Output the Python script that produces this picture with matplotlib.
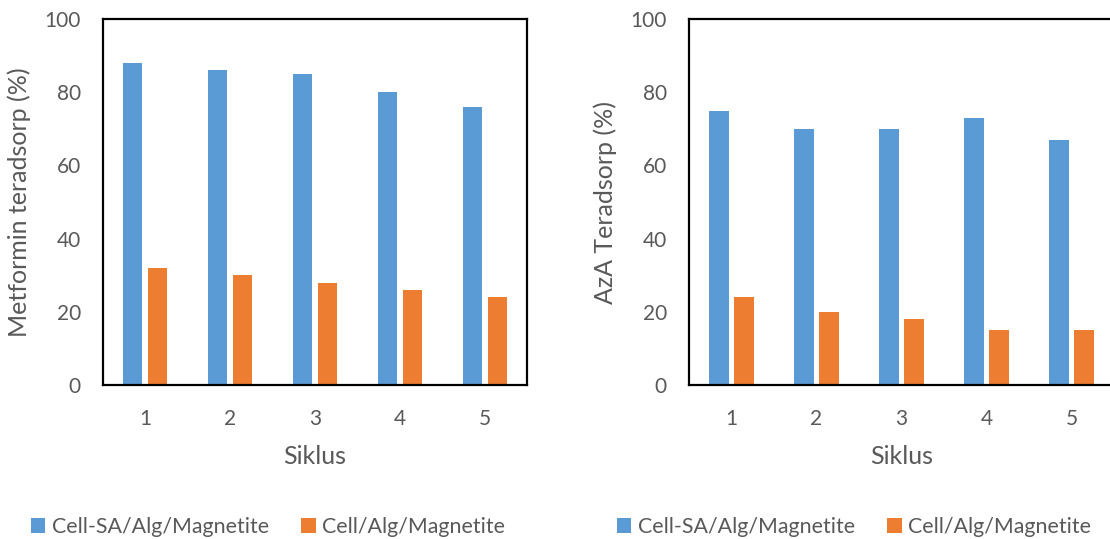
import matplotlib.pyplot as plt
import numpy as np

cycles = ['1', '2', '3', '4', '5']
metformin_sa = [88, 86, 85, 80, 76]
metformin_plain = [32, 30, 28, 26, 24]
aza_sa = [75, 70, 70, 73, 67]
aza_plain = [24, 20, 18, 15, 15]
series_names = ['Cell-SA/Alg/Magnetite', 'Cell/Alg/Magnetite']
ylabels = ['Metformin teradsorp (%)', 'AzA Teradsorp (%)']

blue = '#5B9BD5'
orange = '#ED7D31'
grey = '#595959'

plt.rcParams['font.family'] = ['Lato', 'DejaVu Sans']

fig = plt.figure(figsize=(11.1, 5.39), dpi=100)
ax1 = fig.add_axes([103 / 1110, 1 - 385 / 539, 424 / 1110, 366 / 539])
ax2 = fig.add_axes([689 / 1110, 1 - 385 / 539, 425 / 1110, 366 / 539])

x = np.arange(len(cycles))
w = 0.224
gap = 0.07

legend_x = [12 / 1110, 598 / 1110]
for ax, s1, s2, ylab, lx in [(ax1, metformin_sa, metformin_plain, ylabels[0], legend_x[0]),
                             (ax2, aza_sa, aza_plain, ylabels[1], legend_x[1])]:
    b1 = ax.bar(x - (w + gap) / 2, s1, w, color=blue, label=series_names[0])
    b2 = ax.bar(x + (w + gap) / 2, s2, w, color=orange, label=series_names[1])
    ax.set_xlim(-0.5, 4.5)
    ax.set_ylim(0, 100)
    ax.set_yticks([0, 20, 40, 60, 80, 100])
    ax.set_xticks(x)
    ax.set_xticklabels(cycles)
    ax.tick_params(length=0, labelsize=15, labelcolor=grey, pad=16)
    ax.tick_params(axis='x', pad=17)
    for sp in ax.spines.values():
        sp.set_color('black')
        sp.set_linewidth(1.6)
    ax.set_xlabel('Siklus', fontsize=18, color=grey, labelpad=12)
    ax.set_ylabel(ylab, fontsize=18, color=grey, labelpad=10)
    fig.legend([b1, b2], series_names, loc='center left',
               bbox_to_anchor=(lx, 1 - 527 / 539), ncol=2, frameon=False,
               fontsize=15.4, labelcolor=grey, handlelength=0.66, handleheight=0.66,
               handletextpad=0.32, columnspacing=1.5)

fig.savefig('out.png', dpi=100)
